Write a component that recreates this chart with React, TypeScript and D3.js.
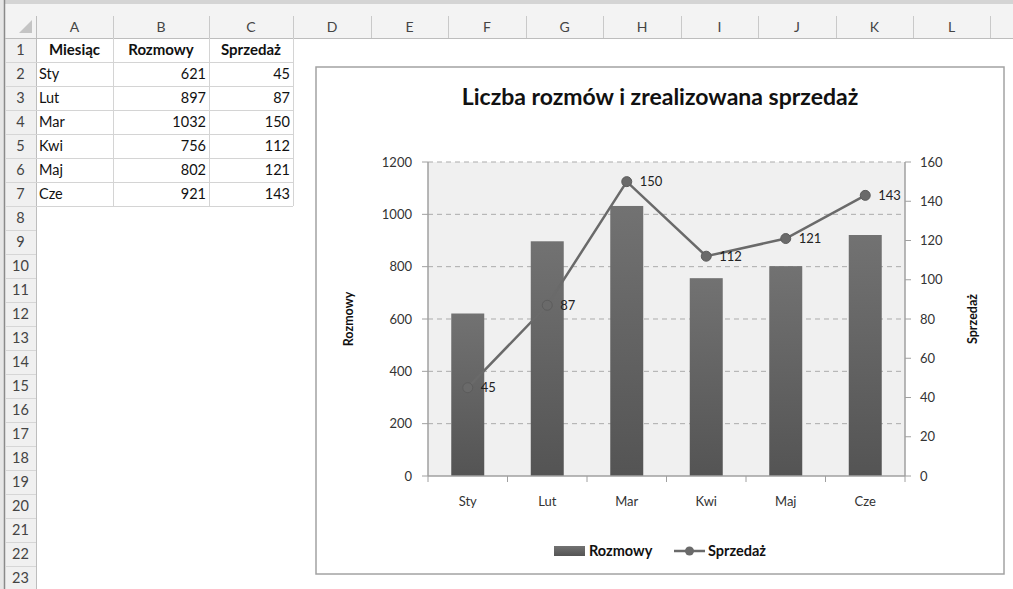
import React from 'react';
import * as d3 from 'd3';

const months = ['Sty', 'Lut', 'Mar', 'Kwi', 'Maj', 'Cze'];
const calls = [621, 897, 1032, 756, 802, 921];
const sales = [45, 87, 150, 112, 121, 143];
const leftTicks = [0, 200, 400, 600, 800, 1000, 1200];
const rightTicks = [0, 20, 40, 60, 80, 100, 120, 140, 160];
const colLetters = ['A', 'B', 'C', 'D', 'E', 'F', 'G', 'H', 'I', 'J', 'K', 'L', ''];
const tableHeaders = ['Miesiąc', 'Rozmowy', 'Sprzedaż'];
const chartTitle = 'Liczba rozmów i zrealizowana sprzedaż';
const leftAxisTitle = 'Rozmowy';
const rightAxisTitle = 'Sprzedaż';

const W = 1013;
const H = 589;
const FONT = "Lato, 'Noto Sans', sans-serif";

// spreadsheet layout
const colWidths = [77, 96, 84, 78, 77, 78, 77, 78, 77, 78, 77, 77, 60];
const rowHeaderX0 = 5;
const rowHeaderX1 = 36;
const headerTop = 4;
const headerBottom = 38;
const rowH = 24;
const nRows = 23;

// chart layout
const chartBox = { x0: 316, y0: 67, x1: 1004, y1: 574 };
const plot = { x0: 428, x1: 905, y0: 162, y1: 476 };

export default function App() {
  const colEdges: number[] = [rowHeaderX1];
  colWidths.forEach((w, i) => colEdges.push(colEdges[i] + w));

  const x = d3.scaleBand<string>().domain(months).range([plot.x0, plot.x1]).padding(0);
  const yL = d3.scaleLinear().domain([0, 1200]).range([plot.y1, plot.y0]);
  const yR = d3.scaleLinear().domain([0, 160]).range([plot.y1, plot.y0]);
  const bw = x.bandwidth() * 0.415;
  const cx = (m: string) => (x(m) as number) + x.bandwidth() / 2;

  const line = d3
    .line<number>()
    .x((_, i) => cx(months[i]))
    .y((d) => yR(d));

  const rows = d3.range(1, nRows + 1);
  const tableRows = months.map((m, i) => [m, calls[i], sales[i]]);
  const dataRowsBottom = headerBottom + rowH * (tableRows.length + 1);
  const boundaries = d3.range(months.length + 1).map((i) => plot.x0 + i * x.bandwidth());

  return (
    <svg
      width={W}
      height={H}
      style={{ position: 'absolute', left: 0, top: 0, background: '#fff' }}
      fontFamily={FONT}
    >
      <defs>
        <linearGradient id="barGrad" x1="0" y1="0" x2="0" y2="1">
          <stop offset="0%" stopColor="#727272" />
          <stop offset="100%" stopColor="#545454" />
        </linearGradient>
      </defs>
      {/* spreadsheet chrome */}
      <rect x={0} y={0} width={W} height={H} fill="#ffffff" />
      <rect x={0} y={0} width={W} height={headerTop} fill="#d4d4d4" />
      <rect x={rowHeaderX0} y={headerTop} width={W - rowHeaderX0} height={headerBottom - headerTop} fill="#f3f3f3" />
      <rect x={rowHeaderX0} y={headerBottom} width={rowHeaderX1 - rowHeaderX0} height={H - headerBottom} fill="#f0f0f0" />
      <rect x={0} y={0} width={rowHeaderX0 - 1} height={H} fill="#e6e6e6" />
      <line x1={rowHeaderX0 - 0.5} x2={rowHeaderX0 - 0.5} y1={0} y2={H} stroke="#8a8a8a" strokeWidth={1.5} />
      <path d={`M${rowHeaderX1 - 4},${headerBottom - 5} L${rowHeaderX1 - 4},${headerBottom - 18} L${rowHeaderX1 - 17},${headerBottom - 5} Z`} fill="#c4c4c4" />
      {/* column headers */}
      {colLetters.map((c, i) => (
        <g key={'c' + i}>
          <text
            x={(colEdges[i] + colEdges[i + 1]) / 2}
            y={32}
            textAnchor="middle"
            fontSize={14}
            fill="#444"
          >
            {c}
          </text>
          <line x1={colEdges[i + 1] + 0.5} x2={colEdges[i + 1] + 0.5} y1={16} y2={headerBottom} stroke="#c9c9c9" />
        </g>
      ))}
      <line x1={rowHeaderX1 + 0.5} x2={rowHeaderX1 + 0.5} y1={16} y2={H} stroke="#bdbdbd" />
      <line x1={rowHeaderX0} x2={W} y1={headerBottom + 0.5} y2={headerBottom + 0.5} stroke="#bdbdbd" />
      {/* row headers */}
      {rows.map((r) => (
        <g key={r}>
          <text x={(rowHeaderX0 + rowHeaderX1) / 2} y={headerBottom + rowH * (r - 1) + 17} textAnchor="middle" fontSize={14.5} fill="#444">
            {r}
          </text>
          <line x1={rowHeaderX0} x2={rowHeaderX1} y1={headerBottom + rowH * r + 0.5} y2={headerBottom + rowH * r + 0.5} stroke="#d6d6d6" />
        </g>
      ))}
      {/* data grid */}
      {d3.range(1, tableRows.length + 2).map((r) => (
        <line key={'h' + r} x1={rowHeaderX1} x2={colEdges[3]} y1={headerBottom + rowH * r + 0.5} y2={headerBottom + rowH * r + 0.5} stroke="#d4d4d4" />
      ))}
      {[1, 2, 3].map((c) => (
        <line key={'v' + c} x1={colEdges[c] + 0.5} x2={colEdges[c] + 0.5} y1={headerBottom} y2={dataRowsBottom} stroke="#d4d4d4" />
      ))}
      {tableHeaders.map((h, i) => (
        <text key={h} x={(colEdges[i] + colEdges[i + 1]) / 2} y={headerBottom + 17} textAnchor="middle" fontSize={15} fontWeight="bold" fill="#111">
          {h}
        </text>
      ))}
      {tableRows.map((row, r) => (
        <g key={'r' + r}>
          <text x={colEdges[0] + 3} y={headerBottom + rowH * (r + 1) + 17} fontSize={14.5} fill="#111">
            {row[0]}
          </text>
          <text x={colEdges[2] - 3} y={headerBottom + rowH * (r + 1) + 17} textAnchor="end" fontSize={14.5} fill="#111">
            {row[1]}
          </text>
          <text x={colEdges[3] - 3} y={headerBottom + rowH * (r + 1) + 17} textAnchor="end" fontSize={14.5} fill="#111">
            {row[2]}
          </text>
        </g>
      ))}

      {/* chart */}
      <rect
        x={chartBox.x0}
        y={chartBox.y0}
        width={chartBox.x1 - chartBox.x0}
        height={chartBox.y1 - chartBox.y0}
        fill="#ffffff"
        stroke="#a3a3a3"
        strokeWidth={1.5}
      />
      <text x={(chartBox.x0 + chartBox.x1) / 2} y={105} textAnchor="middle" fontSize={23} fontWeight="bold" fill="#111">
        {chartTitle}
      </text>
      <rect x={plot.x0} y={plot.y0} width={plot.x1 - plot.x0} height={plot.y1 - plot.y0} fill="#f0f0f0" />
      {leftTicks.filter((t) => t > 0).map((t) => (
        <line key={'g' + t} x1={plot.x0} x2={plot.x1} y1={yL(t)} y2={yL(t)} stroke="#ababab" strokeDasharray="5,4" />
      ))}
      {/* bars */}
      {months.map((m, i) => (
        <rect key={'b' + m} x={cx(m) - bw / 2} y={yL(calls[i])} width={bw} height={yL(0) - yL(calls[i])} fill="url(#barGrad)" />
      ))}
      {/* axes */}
      <line x1={plot.x0} x2={plot.x0} y1={plot.y0} y2={plot.y1} stroke="#a0a0a0" strokeWidth={1.5} />
      <line x1={plot.x1} x2={plot.x1} y1={plot.y0} y2={plot.y1} stroke="#a0a0a0" strokeWidth={1.5} />
      <line x1={plot.x0} x2={plot.x1} y1={plot.y1} y2={plot.y1} stroke="#a0a0a0" strokeWidth={1.5} />
      {leftTicks.map((t) => (
        <g key={'lt' + t}>
          <line x1={plot.x0 - 6} x2={plot.x0} y1={yL(t)} y2={yL(t)} stroke="#a0a0a0" />
          <text x={plot.x0 - 16} y={yL(t)} dy="0.35em" textAnchor="end" fontSize={13} fill="#333">
            {t}
          </text>
        </g>
      ))}
      {rightTicks.map((t) => (
        <g key={'rt' + t}>
          <line x1={plot.x1} x2={plot.x1 + 6} y1={yR(t)} y2={yR(t)} stroke="#a0a0a0" />
          <text x={plot.x1 + 15} y={yR(t)} dy="0.35em" textAnchor="start" fontSize={13} fill="#333">
            {t}
          </text>
        </g>
      ))}
      {boundaries.map((b, i) => (
        <line key={'xt' + i} x1={b} x2={b} y1={plot.y1} y2={plot.y1 + 6} stroke="#a0a0a0" />
      ))}
      {months.map((m) => (
        <text key={'xl' + m} x={cx(m)} y={506} textAnchor="middle" fontSize={13} fill="#333">
          {m}
        </text>
      ))}
      {/* line series */}
      <path d={line(sales) || ''} fill="none" stroke="#6a6a6a" strokeWidth={2.5} />
      {sales.map((s, i) => (
        <g key={'p' + i}>
          <circle cx={cx(months[i])} cy={yR(s)} r={5} fill="#6a6a6a" stroke="#5c5c5c" strokeWidth={1} />
          <text x={cx(months[i]) + 13} y={yR(s)} dy="0.35em" fontSize={13} fill="#222">
            {s}
          </text>
        </g>
      ))}
      {/* axis titles */}
      <text transform={`translate(349,${(plot.y0 + plot.y1) / 2}) rotate(-90)`} textAnchor="middle" dy="0.35em" fontSize={12.5} fontWeight="bold" fill="#111">
        {leftAxisTitle}
      </text>
      <text transform={`translate(973,${(plot.y0 + plot.y1) / 2}) rotate(-90)`} textAnchor="middle" dy="0.35em" fontSize={12.5} fontWeight="bold" fill="#111">
        {rightAxisTitle}
      </text>
      {/* legend */}
      <rect x={554} y={546} width={31} height={10} fill="url(#barGrad)" />
      <text x={589} y={551} dy="0.35em" fontSize={14.5} fontWeight="bold" fill="#111">
        {leftAxisTitle}
      </text>
      <line x1={674} x2={705} y1={551} y2={551} stroke="#6a6a6a" strokeWidth={2.5} />
      <circle cx={689.5} cy={551} r={4.5} fill="#6a6a6a" />
      <text x={708} y={551} dy="0.35em" fontSize={14.5} fontWeight="bold" fill="#111">
        {rightAxisTitle}
      </text>
    </svg>
  );
}
